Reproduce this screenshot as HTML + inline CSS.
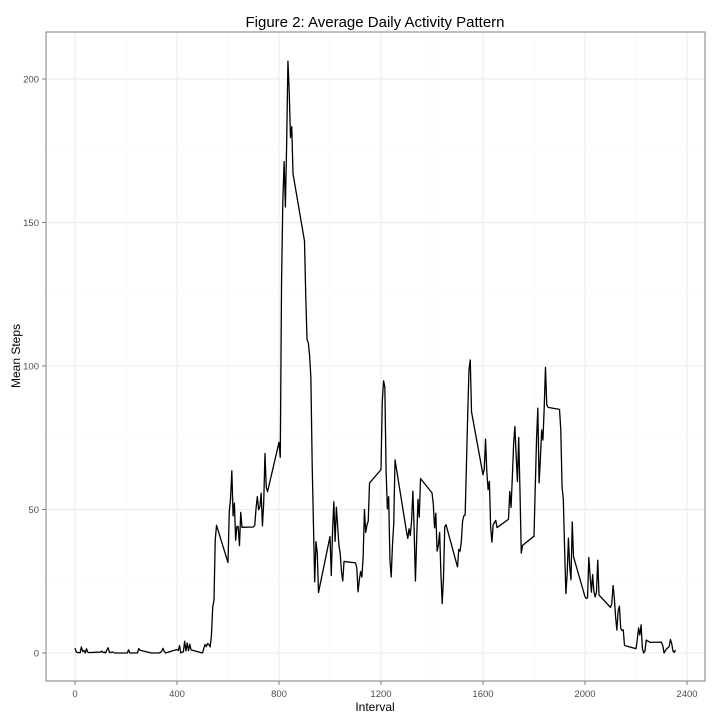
<!DOCTYPE html>
<html><head><meta charset="utf-8"><style>
body{margin:0;background:#fff;}
svg{display:block;font-family:"Liberation Sans",sans-serif;}
</style></head><body>
<svg id="chart" width="720" height="720">
<text x="375" y="27" font-size="15" text-anchor="middle">Figure 2: Average Daily Activity Pattern</text>
<g id="grid"></g>
<g id="plot"></g>
<rect x="46" y="32" width="659" height="649" fill="none" stroke="#7f7f7f" stroke-width="1"/>
<g id="axes"></g>
<text x="375" y="711" font-size="12" text-anchor="middle">Interval</text>
<text x="20" y="356" font-size="12" text-anchor="middle" transform="rotate(-90 20 356)">Mean Steps</text>
</svg>
<script>
const hourlySteps = [
[1.72,0.34,0.13,0.15,0.08,2.09,0.53,0.87,0,1.47,0.30,0.13],
[0.32,0.68,0.15,0.34,0,1.11,1.83,0.17,0.17,0.38,0.26,0],
[0,0,1.13,0,0,0,0.09,0,0,0,1.55,0.94],
[0,0,0,0,0,0,0,0.21,0.62,1.62,0.58,0],
[1.2,0.9,2.6,0,0.3,0.4,4.1,0.7,3.5,0.8,3.1,1.1],
[0,1.6,3.0,2.2,3.3,3.0,2.1,6.1,16.0,18.3,39.5,44.5],
[31.5,49.3,53.8,63.5,47.8,52.2,39.3,44.1,44.0,37.4,49.0,43.8],
[43.9,44.5,50.5,54.5,49.9,50.9,55.7,44.3,52.3,69.5,57.8,56.2],
[73.4,68.2,129.4,157.5,171.2,155.4,177.3,206.2,195.9,179.6,183.4,167.0],
[143.5,124.0,109.1,108.1,103.7,96.0,66.2,45.2,24.8,38.8,35.0,21.1],
[40.6,27.0,42.4,52.7,38.9,50.8,44.3,37.4,34.7,28.3,25.1,31.9],
[31.4,29.7,21.3,25.5,28.4,26.5,33.4,50.0,42.0,44.6,46.0,59.2],
[63.9,87.6,94.8,92.8,63.4,50.2,54.5,32.4,26.5,37.7,45.1,67.3],
[42.3,39.9,43.3,40.9,46.2,56.4,42.8,25.1,40.0,53.5,47.3,60.8],
[55.8,52.0,43.6,48.7,35.5,37.5,42.0,27.5,17.2,26.0,44.0,44.7],
[30.0,36.1,35.5,38.8,46.0,47.8,48.1,65.3,82.9,98.7,102.1,84.0],
[62.1,64.1,74.5,63.2,56.9,59.8,43.9,38.6,44.7,45.5,46.2,43.7],
[46.6,56.3,50.7,61.2,72.7,78.9,68.9,59.7,75.1,56.5,34.8,37.5],
[40.7,58.0,74.7,85.3,59.3,67.8,77.7,74.2,85.3,99.5,86.6,85.6],
[84.9,77.8,58.0,53.4,36.3,20.7,27.4,40.0,30.2,25.5,45.7,33.5],
[19.6,19.0,19.3,33.3,26.8,21.2,27.3,21.3,19.5,21.3,32.3,20.2],
[15.9,17.2,23.5,19.2,12.5,8.0,14.7,16.3,8.7,7.8,8.1,2.6],
[1.5,4.6,8.7,6.3,9.8,1.6,0.0,0.6,4.5,4.2,4.0,3.7],
[3.8,2.6,0.0,0.8,1.5,1.8,2.2,4.7,3.3,0.6,0.2,1.1]
];
const xTicks = [0,400,800,1200,1600,2000,2400];
const yTicks = [0,50,100,150,200];

const NS = "http://www.w3.org/2000/svg";
const xs = v => 75 + v * (612/2400);
const ys = v => 653 - v * (574/200);
const grid = document.getElementById('grid');
const axes = document.getElementById('axes');
const plot = document.getElementById('plot');
function ln(p,x1,y1,x2,y2,c,w){const l=document.createElementNS(NS,'line');l.setAttribute('x1',x1);l.setAttribute('y1',y1);l.setAttribute('x2',x2);l.setAttribute('y2',y2);l.setAttribute('stroke',c);l.setAttribute('stroke-width',w);p.appendChild(l);return l;}
for(let i=0;i<xTicks.length-1;i++){const m=(xTicks[i]+xTicks[i+1])/2;const g=ln(grid,xs(m),32,xs(m),681,'#f5f5f5',0.6);

}
for(let i=0;i<yTicks.length-1;i++){const m=(yTicks[i]+yTicks[i+1])/2;const g=ln(grid,46,ys(m),705,ys(m),'#f5f5f5',0.6);

}
{const m=-25;const g=ln(grid,46,ys(m),705,ys(m),'#f5f5f5',0.6);

}
xTicks.forEach(t=>{const x=xs(t);const g=ln(grid,x,32,x,681,'#ebebeb',1);


const k=ln(axes,x,681,x,685,'#7f7f7f',1);


const tx=document.createElementNS(NS,'text');tx.setAttribute('x',x);tx.setAttribute('y',697);tx.setAttribute('font-size','9.5');tx.setAttribute('text-anchor','middle');tx.setAttribute('fill','#4d4d4d');tx.textContent=t;


axes.appendChild(tx);});
yTicks.forEach(t=>{const y=ys(t);const g=ln(grid,46,y,705,y,'#ebebeb',1);


const k=ln(axes,42,y,46,y,'#7f7f7f',1);


const tx=document.createElementNS(NS,'text');tx.setAttribute('x',39);tx.setAttribute('y',y+3.5);tx.setAttribute('font-size','9.5');tx.setAttribute('text-anchor','end');tx.setAttribute('fill','#4d4d4d');tx.textContent=t;


axes.appendChild(tx);});
let pts=[];
hourlySteps.forEach((row,h)=>row.forEach((v,i)=>{const interval=h*100+i*5;pts.push(xs(interval).toFixed(2)+','+ys(v).toFixed(2));}));
const pl=document.createElementNS(NS,'polyline');
pl.setAttribute('points',pts.join(' '));pl.setAttribute('fill','none');pl.setAttribute('stroke','#000');pl.setAttribute('stroke-width','1.3');pl.setAttribute('stroke-linejoin','round');


plot.appendChild(pl);
</script>
</body></html>
